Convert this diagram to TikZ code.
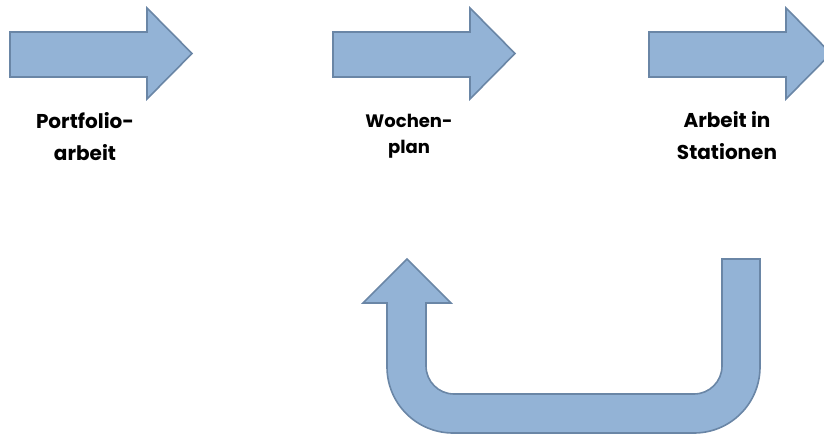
\documentclass[tikz,border=0pt]{standalone}
\usepackage{fontspec}
\setmainfont{Poppins}
\definecolor{arrowfill}{HTML}{93B3D6}
\definecolor{arrowline}{HTML}{6A86A6}
\tikzset{
  blockarrow/.style={fill=arrowfill, draw=arrowline, line width=1.6pt, line join=miter},
  caption/.style={align=center, inner sep=0pt, anchor=base,
    font=\fontsize{20}{32}\selectfont\bfseries},
  pics/rarrow/.style={code={
    \draw[blockarrow] (0,32) -- (137,32) -- (137,8) -- (182,53.5)
      -- (137,99) -- (137,77) -- (0,77) -- cycle;
  }}
}
\begin{document}
\begin{tikzpicture}[x=1pt, y=-1pt]
  \useasboundingbox (0,0) rectangle (824,434);
  \begin{scope}
    \clip (0,0) rectangle (824,434);
    % three block arrows in a row
    \pic at (10,0) {rarrow};
    \pic at (333,0) {rarrow};
    \pic at (649,0) {rarrow};

    % U-turn arrow leading back
    \draw[blockarrow] (760,259) -- (760,367)
      arc[start angle=0, end angle=90, radius=66]
      -- (453,433)
      arc[start angle=90, end angle=180, radius=66]
      -- (387,303) -- (363,303) -- (407,259) -- (451,303) -- (426,303)
      -- (426,366)
      arc[start angle=180, end angle=90, radius=28]
      -- (694,394)
      arc[start angle=90, end angle=0, radius=28]
      -- (722,259) -- cycle;
  \end{scope}

  % captions under the arrows
  \node[caption] (portfolio) at (85,160) {Portfolio-\\arbeit};
  \node[caption, font=\fontsize{18}{26}\selectfont\bfseries] (wochenplan) at (409,153) {Wochen-\\plan};
  \node[caption] (stationen) at (727,159) {Arbeit in\\Stationen};
\end{tikzpicture}
\end{document}
